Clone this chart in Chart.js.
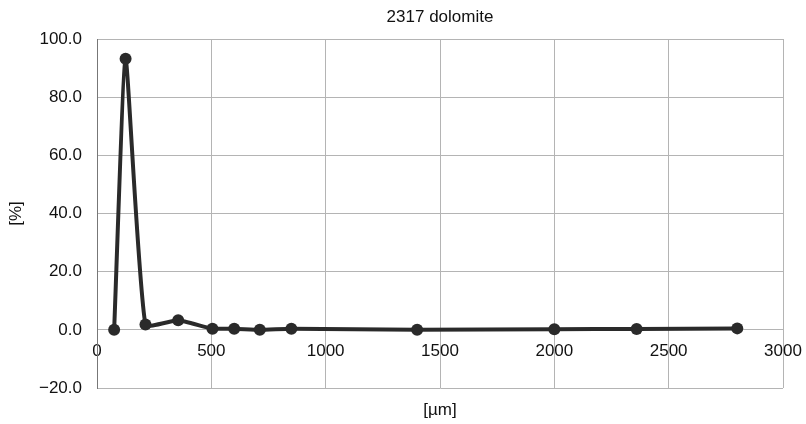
<!DOCTYPE html>
<html>
<head>
<meta charset="utf-8">
<script src="https://cdn.jsdelivr.net/npm/chart.js@4"></script>
<style>
  html, body { margin: 0; padding: 0; background: #fff; }
  #wrap { width: 806px; height: 424px; }
</style>
</head>
<body>
<div id="wrap"><canvas id="chart"></canvas></div>
<script>
// data
const sizes = [75, 125, 212, 355, 505, 600, 712, 850, 1400, 2000, 2360, 2800];
const percent = [0.0, 93.2, 1.8, 3.3, 0.4, 0.4, 0.0, 0.4, 0.0, 0.2, 0.3, 0.5];
const yTicks = [-20, 0, 20, 40, 60, 80, 100];
const xTicks = [0, 500, 1000, 1500, 2000, 2500, 3000];

const titleText = '2317 dolomite';
const xTitle = '[µm]';
const FONT = "'Liberation Sans', Arial, sans-serif";

// title and x title centred over the plot area
const extraText = {
  id: 'extraText',
  afterDraw(chart) {
    const { ctx, chartArea } = chart;
    const cx = (chartArea.left + chartArea.right) / 2;
    ctx.save();
    ctx.fillStyle = '#111';
    ctx.textAlign = 'center';
    ctx.textBaseline = 'middle';
    ctx.font = '17px ' + FONT;
    ctx.fillText(titleText, cx, 17);
    ctx.fillText(xTitle, cx, 410);
    ctx.restore();
  }
};

const points = sizes.map((s, i) => ({ x: s, y: percent[i] }));

new Chart(document.getElementById('chart'), {
  type: 'line',
  data: {
    datasets: [{
      data: points,
      borderColor: '#2a2a2a',
      backgroundColor: '#2a2a2a',
      borderWidth: 4,
      pointRadius: 6,
      pointBorderWidth: 0,
      tension: 0.15,
      fill: false
    }]
  },
  options: {
    responsive: true,
    maintainAspectRatio: false,
    animation: false,
    layout: { padding: { top: 39, right: 23, bottom: 36, left: 0 } },
    plugins: {
      legend: { display: false },
      tooltip: { enabled: false }
    },
    scales: {
      x: {
        type: 'linear',
        position: { y: 0 },
        min: 0,
        max: 3000,
        afterBuildTicks: (scale) => { scale.ticks = xTicks.map(v => ({ value: v })); },
        afterFit: (scale) => { scale.paddingLeft = 0; scale.paddingRight = 0; },
        ticks: {
          color: '#111',
          font: { family: FONT, size: 17 },
          padding: 11,
          maxRotation: 0,
          callback: (v) => String(v)
        },
        grid: { color: '#b4b4b4', lineWidth: 1, drawTicks: false },
        border: { display: false }
      },
      y: {
        min: -20,
        max: 100,
        afterFit: (scale) => { scale.width = 97; scale.paddingTop = 0; scale.paddingBottom = 0; },
        afterBuildTicks: (scale) => { scale.ticks = yTicks.map(v => ({ value: v })); },
        ticks: {
          color: '#111',
          font: { family: FONT, size: 17 },
          padding: 15,
          callback: (v) => (v < 0 ? '\u2212' : '') + Math.abs(v).toFixed(1)
        },
        grid: { color: '#b4b4b4', lineWidth: 1, drawTicks: false },
        border: { display: true, color: '#777', width: 1 },
        title: {
          display: true,
          text: '[%]',
          color: '#111',
          font: { family: FONT, size: 17 },
          padding: { top: 6, bottom: 0 }
        }
      }
    }
  },
  plugins: [extraText]
});
</script>
</body>
</html>
